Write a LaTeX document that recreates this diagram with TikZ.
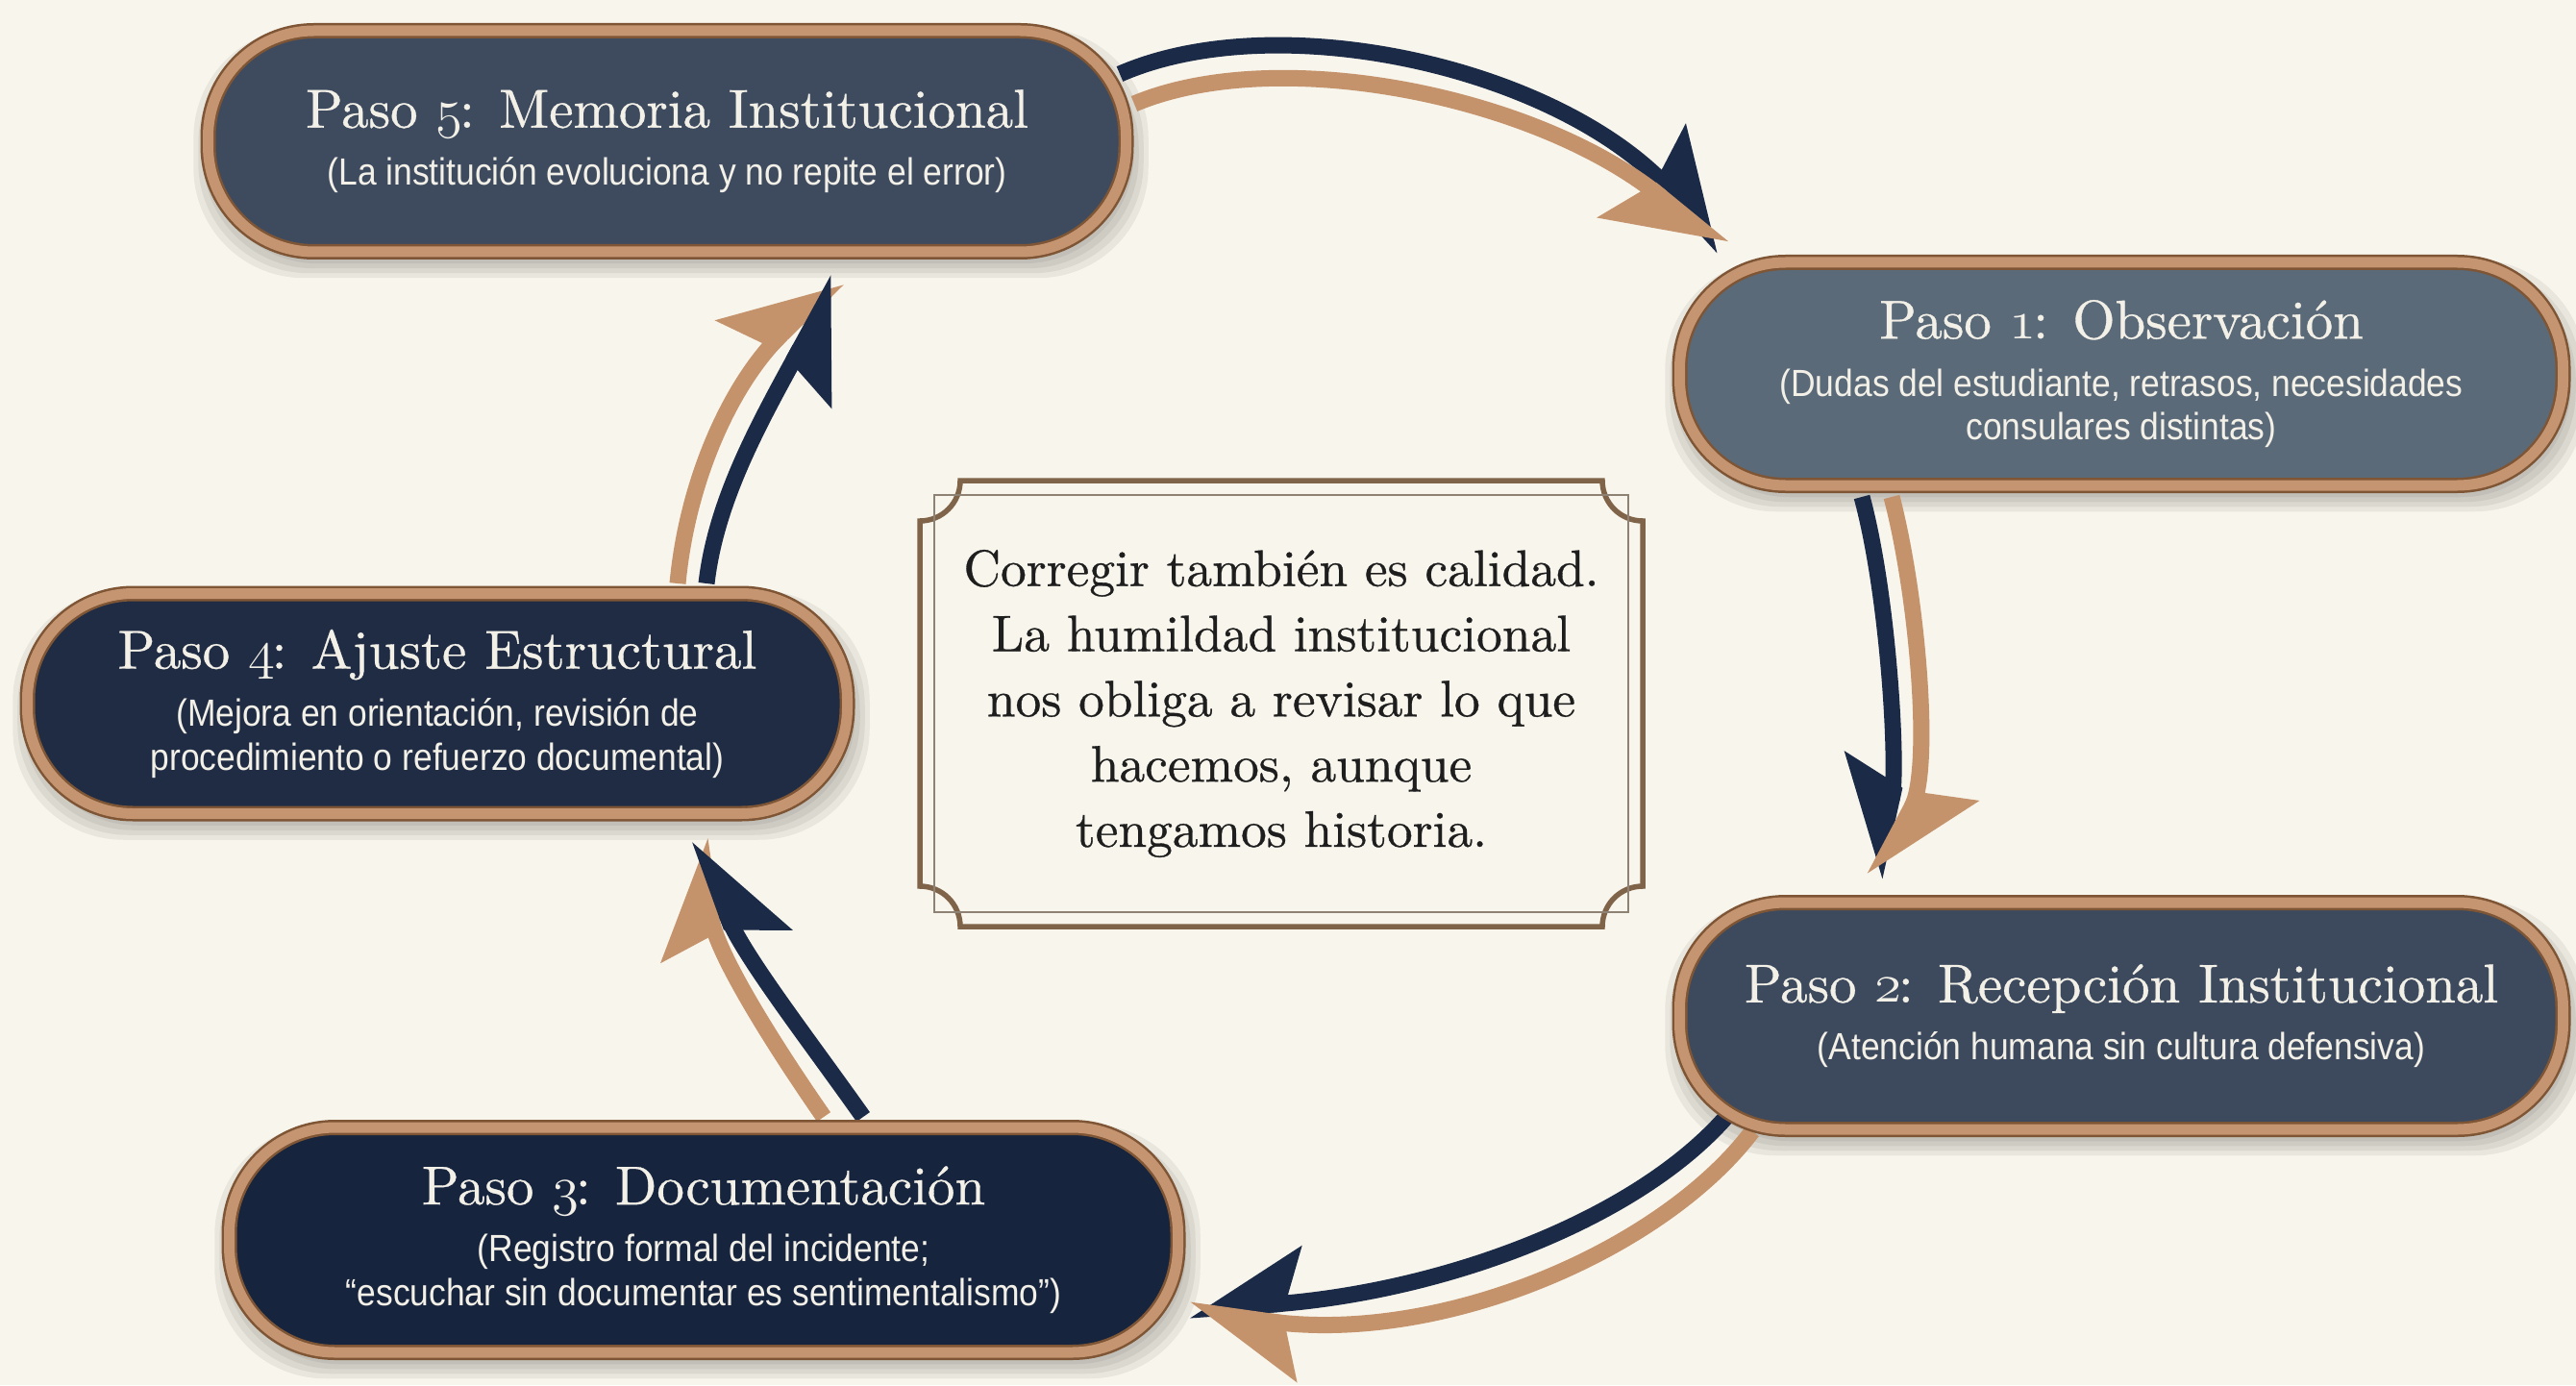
\documentclass[tikz,border=0pt]{standalone}
\usepackage{fix-cm}
\usepackage{fontspec}
\newfontfamily\subfont{Liberation Sans}[FakeStretch=0.9]
\newfontfamily\serifheavy{lmroman10-regular.otf}[FakeBold=0.6]
\usetikzlibrary{arrows.meta,calc}

\definecolor{paper}{HTML}{F8F5EC}
\definecolor{copper}{HTML}{C59470}
\definecolor{copperdark}{HTML}{7E5535}
\definecolor{slatea}{HTML}{3E4B5F}
\definecolor{slateb}{HTML}{5B6A79}
\definecolor{slatec}{HTML}{3D4A5D}
\definecolor{navyd}{HTML}{16243E}
\definecolor{navye}{HTML}{1F2C44}
\definecolor{arrownavy}{HTML}{1B2A47}
\definecolor{arrowcopper}{HTML}{C4926B}
\definecolor{framecol}{HTML}{7F6449}
\definecolor{framethin}{HTML}{8E8274}
\definecolor{inktext}{HTML}{1E1E1E}
\definecolor{lighttext}{HTML}{F3F0E8}

\newcommand\osf[1]{{\usefont{OML}{cmm}{m}{it}#1}}
\newcommand\pasotitle[2]{{\serifheavy\fontsize{16.2}{19}\selectfont Paso \osf{#1}\kern-0.06em: #2}}

\pgfdeclarelayer{back}
\pgfdeclarelayer{arrowlayer}
\pgfsetlayers{back,arrowlayer,main}

\tikzset{
  pasobox/.style={draw=copperdark, line width=0.025cm, double=copper, double distance=0.11cm,
    rounded corners=1.1cm, text=lighttext, align=center, inner sep=0pt,
    font=\subfont\fontsize{11.2}{13}\selectfont},
  softshadow/.style={fill=black, opacity=0.06, rounded corners=1.15cm},
  navyline/.style={draw=arrownavy, line width=0.17cm},
  copperline/.style={draw=arrowcopper, line width=0.17cm},
  tipl/.style={-{Stealth[harpoon, length=1.05cm, width=1.15cm, inset=0.2cm]}},
  tipr/.style={-{Stealth[harpoon, swap, length=1.05cm, width=1.15cm, inset=0.2cm]}},
  framethick/.style={draw=framecol, line width=0.055cm},
  framefine/.style={draw=framethin, line width=0.02cm},
}

\begin{document}
\begin{tikzpicture}
\begin{pgfonlayer}{back}
  \fill[paper] (0,0) rectangle (26.8,-14.41);
\end{pgfonlayer}
\useasboundingbox (0,0) rectangle (26.8,-14.41);

\node[pasobox, fill=slatea, minimum width=9.55cm, minimum height=2.30cm] (p5) at (6.94,-1.47)
  {\pasotitle{5}{Memoria Institucional}\\[4pt](La institución evoluciona y no repite el error)};
\node[pasobox, fill=slateb, minimum width=9.19cm, minimum height=2.32cm] (p1) at (22.07,-3.89)
  {\pasotitle{1}{Observación}\\[4pt](Dudas del estudiante, retrasos, necesidades\\consulares distintas)};
\node[pasobox, fill=slatec, minimum width=9.19cm, minimum height=2.36cm] (p2) at (22.07,-10.57)
  {\pasotitle{2}{Recepción Institucional}\\[4pt](Atención humana sin cultura defensiva)};
\node[pasobox, fill=navyd, minimum width=9.87cm, minimum height=2.34cm] (p3) at (7.32,-12.90)
  {\pasotitle{3}{Documentación}\\[4pt](Registro formal del incidente;\\“escuchar sin documentar es sentimentalismo”)};
\node[pasobox, fill=navye, minimum width=8.53cm, minimum height=2.29cm] (p4) at (4.55,-7.32)
  {\pasotitle{4}{Ajuste Estructural}\\[4pt](Mejora en orientación, revisión de\\procedimiento o refuerzo documental)};

\begin{pgfonlayer}{back}
  \foreach \b in {p5,p1,p2,p3,p4}
    \foreach \s in {0.03,0.08,0.13,0.18}
      \fill[softshadow] ($(\b.south west)+(-\s+0.04,-\s-0.08)$) rectangle ($(\b.north east)+(\s+0.04,\s-0.16)$);
\end{pgfonlayer}

\node[text=inktext, align=center, font=\serifheavy\fontsize{15.2}{19.3}\selectfont] (msg) at (13.33,-7.32)
  {Corregir también es calidad.\\La humildad institucional\\nos obliga a revisar lo que\\hacemos, aunque\\tengamos historia.};
\draw[framethick, shift={(msg.center)}] (-3.34,2.32) -- (3.34,2.32) arc(180:270:0.42)
  -- (3.76,-1.90) arc(90:180:0.42) -- (-3.34,-2.32) arc(0:90:0.42)
  -- (-3.76,1.90) arc(-90:0:0.42) -- cycle;
\draw[framefine, shift={(msg.center)}] (-3.61,-2.17) rectangle (3.61,2.17);

\coordinate (tip51) at ($(p1.center)+(-4.14,1.31)$);
\coordinate (tip12) at ($(p2.center)+(-2.57,1.44)$);
\coordinate (tip23) at ($(p3.center)+(5.05,-0.73)$);
\coordinate (tip34) at ($(p4.center)+(2.73,-1.41)$);
\coordinate (tip45) at ($(p5.center)+(1.78,-1.43)$);

\begin{pgfonlayer}{arrowlayer}
  \draw[navyline, tipl] ($(p5.center)+(4.71,0.70)$) .. controls +(1.65,0.72) and +(-1.73,1.88) .. (tip51);
  \draw[copperline, tipr] ($(p5.center)+(4.86,0.39)$) .. controls +(1.50,0.63) and +(-1.93,1.58) .. (tip51);

  \draw[navyline, tipr] ($(p1.center)+(-2.70,-1.28)$) .. controls +(0.28,-1.03) and +(0.25,1.13) .. (tip12);
  \draw[copperline, tipl] ($(p1.center)+(-2.39,-1.28)$) .. controls +(0.27,-1.03) and +(0.60,1.13) .. (tip12);

  \draw[navyline, tipr] ($(p2.center)+(-4.12,-1.06)$) .. controls +(-0.95,-1.07) and +(2.63,0.18) .. (tip23);
  \draw[copperline, tipl] ($(p2.center)+(-3.84,-1.20)$) .. controls +(-0.93,-1.23) and +(2.63,-0.37) .. (tip23);

  \draw[copperline, tipl] ($(p3.center)+(1.25,1.28)$) .. controls +(-0.57,0.82) and +(0.17,-1.17) .. (tip34);
  \draw[navyline, tipr] ($(p3.center)+(1.66,1.28)$) .. controls +(-0.58,0.82) and +(0.42,-1.17) .. (tip34);

  \draw[copperline, tipl] ($(p4.center)+(2.50,1.25)$) .. controls +(0.10,1.07) and +(-1.12,-1.10) .. (tip45);
  \draw[navyline, tipr] ($(p4.center)+(2.80,1.25)$) .. controls +(0.10,0.87) and +(-0.82,-1.50) .. (tip45);
\end{pgfonlayer}
\end{tikzpicture}
\end{document}
